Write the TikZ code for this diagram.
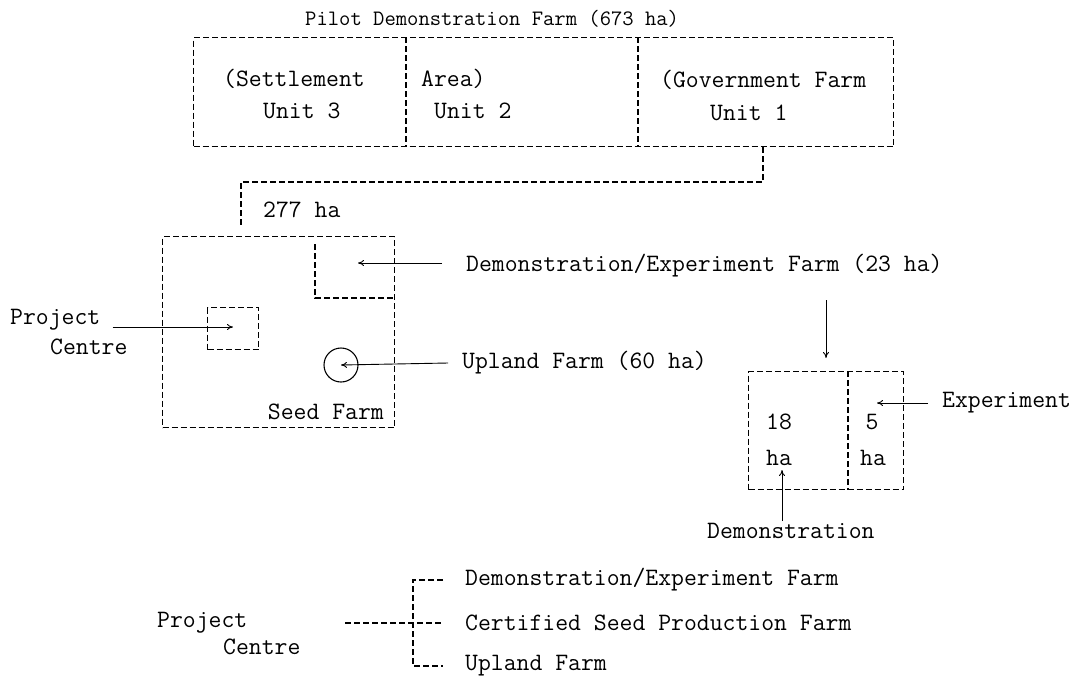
\documentclass[tikz,border=0pt]{standalone}
\usepackage{tikz}
\usetikzlibrary{arrows.meta,positioning}

\begin{document}
\begin{tikzpicture}[
    x=1pt,y=-1pt,
    >={To[length=6pt,width=6pt]},
    every node/.style={font=\ttfamily\fontsize{25}{28}\selectfont,inner sep=0pt},
    dsh/.style={dash pattern=on 6pt off 3pt,line width=1.4pt},
    plot/.style={draw,dsh,anchor=north west},
    arr/.style={->,line width=0.9pt},
    ttl/.style={font=\ttfamily\fontsize{22}{26}\selectfont},
  ]
  \useasboundingbox (0,0) rectangle (1081,678);

  % -- the pilot demonstration farm --
  \node[ttl,anchor=west] (title) at (305,19) {Pilot Demonstration Farm (673 ha)};
  \node[plot,minimum width=700,minimum height=109] (pdf) at (193,37) {};
  \coordinate (dv1) at (406,37);
  \coordinate (dv2) at (638,37);
  \draw[dsh] (dv1) -- (dv1 |- pdf.south);
  \draw[dsh] (dv2) -- (dv2 |- pdf.south);
  \node[anchor=west] (set) at (223,79) {(Settlement};
  \node[anchor=west] (un3) at (263,111) {Unit 3};
  \node[anchor=west] (area) at (421,79) {Area)};
  \node[anchor=west] (un2) at (434,111) {Unit 2};
  \node[anchor=west] (gov) at (660,80) {(Government Farm};
  \node[anchor=west] (un1) at (710,113) {Unit 1};

  % -- link down to the 277 ha block --
  \coordinate (j1) at (763,182);
  \coordinate (j2) at (241,182);
  \coordinate (j3) at (241,225);
  \draw[dsh] (pdf.south -| j1) -- (j1) -- (j2) -- (j3);
  \node[anchor=west] (ha277) at (263,210) {277 ha};

  % -- seed farm block --
  \node[plot,minimum width=232,minimum height=191] (seed) at (162,236) {};
  \coordinate (dx1) at (315,244);
  \coordinate (dx2) at (315,298);
  \draw[dsh] (dx1) -- (dx2) -- (dx2 -| seed.east);
  \node[plot,minimum width=51,minimum height=42] (pc) at (207,307) {};
  \node[draw,circle,line width=1.1pt,minimum size=34] (upl) at (341,365) {};
  \node[anchor=east] (sfarm) at (384,412) {Seed Farm};

  % -- labels pointing into the block --
  \node[anchor=west] (demo23) at (466,266) {Demonstration/Experiment Farm (23 ha)};
  \coordinate (demotip) at (358,263);
  \coordinate (demoend) at (442,263);
  \draw[arr] (demoend) -- (demotip);
  \node[anchor=west] (upland) at (462,363) {Upland Farm (60 ha)};
  \draw[arr] ([xshift=-14pt]upland.west) -- (upl.center);
  \node[anchor=west] (pro1) at (10,320) {Project};
  \node[anchor=west] (cen1) at (50,347) {Centre};
  \coordinate (pctip) at (233,327);
  \draw[arr] ([xshift=12pt]pro1.east |- pctip) -- (pctip);

  % -- the 23 ha plot, split --
  \node[plot,minimum width=155,minimum height=118] (p23) at (748,371) {};
  \coordinate (dv3) at (848,371);
  \draw[dsh] (dv3) -- (dv3 |- p23.south);
  \node (n18) at (779,422) {18};
  \node (h18) at (779,458) {ha};
  \node (n5) at (872,422) {5};
  \node (h5) at (873,458) {ha};
  \coordinate (dtop) at (826,300);
  \coordinate (dtip) at (826,358);
  \draw[arr] (dtop) -- (dtip);
  \node[anchor=west] (expl) at (942,403) {Experiment};
  \coordinate (etip) at (877,403);
  \draw[arr] ([xshift=-14pt]expl.west) -- (etip);
  \node[anchor=west] (demol) at (707,531) {Demonstration};
  \coordinate (mtip) at (782,470);
  \draw[arr] (mtip |- demol.north) ++(0,-2) -- (mtip);

  % -- what the project centre runs --
  \node[anchor=west] (pro) at (157,623) {Project};
  \node[anchor=west] (cen) at (223,647) {Centre};
  \node[anchor=west] (b1) at (465,580) {Demonstration/Experiment Farm};
  \node[anchor=west] (b2) at (465,623) {Certified Seed Production Farm};
  \node[anchor=west] (b3) at (465,666) {Upland Farm};
  \coordinate (brk) at (413,623);
  \coordinate (pcs) at (345,623);
  \draw[dsh] ([xshift=-22pt]b1.west) -| (brk |- b3.west) -- ([xshift=-22pt]b3.west);
  \draw[dsh] (pcs) -- ([xshift=-22pt]b2.west);
\end{tikzpicture}
\end{document}
